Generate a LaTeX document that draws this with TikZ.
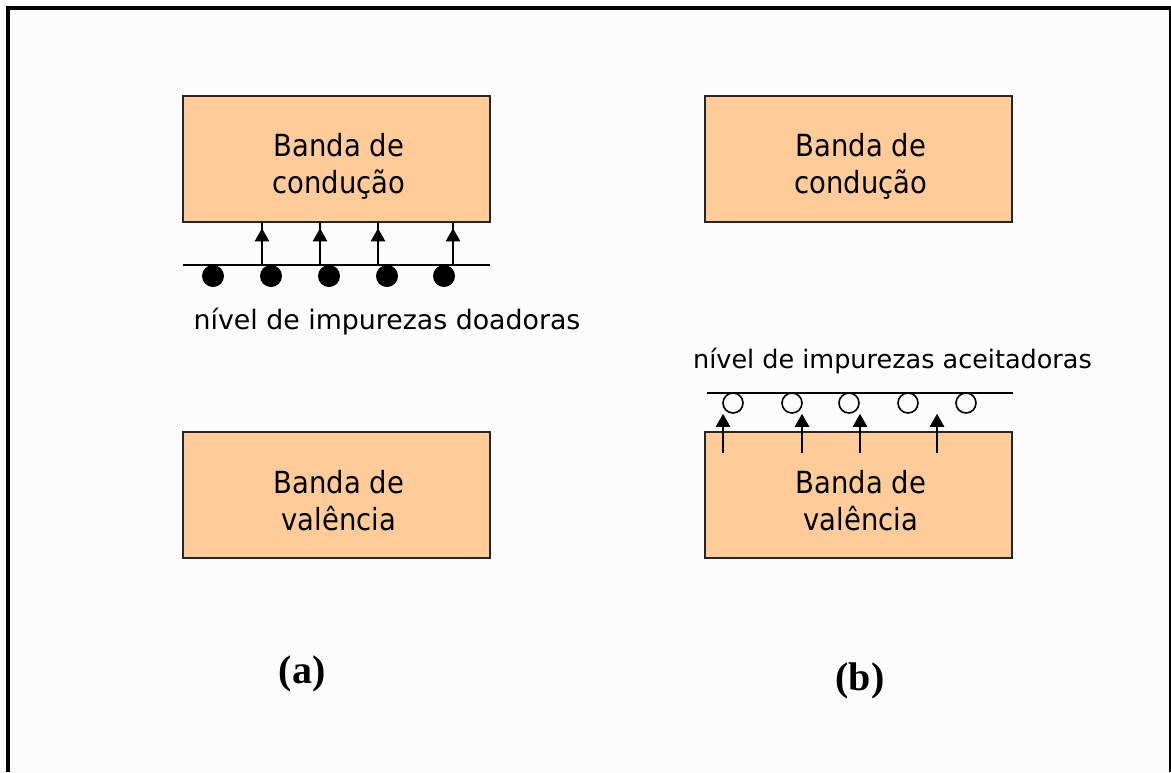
\documentclass[tikz,border=0pt]{standalone}
\usepackage{fontspec}
\setmainfont{DejaVu Sans}
\newfontfamily\bandfont[FakeStretch=0.9]{DejaVu Sans}
\newfontfamily\capfont{Liberation Serif}
\usetikzlibrary{arrows.meta}
\definecolor{band}{HTML}{FFCC99}
\definecolor{paper}{HTML}{FCFCFC}

\begin{document}
\begin{tikzpicture}[x=1pt,y=-1pt,
  bandbox/.style={draw=black!85, line width=2.5pt, fill=band,
    minimum width=307pt, minimum height=126pt, inner sep=0pt},
  bandtext/.style={anchor=base, inner sep=0pt, font=\bandfont\fontsize{30.5}{34}\selectfont},
  leveltext/.style={anchor=base, inner sep=0pt, font=\fontsize{25.5}{30}\selectfont},
  levelline/.style={line width=2.5pt},
  donor/.style={circle, fill=black, minimum size=22pt, inner sep=0pt},
  acceptor/.style={circle, draw=black, line width=1.6pt, fill=paper, minimum size=20pt, inner sep=0pt},
  jump/.style={line width=2.5pt, -{Triangle[length=13pt,width=14pt]}},
  caselabel/.style={inner sep=0pt, font=\capfont\bfseries\fontsize{40}{44}\selectfont}
]
% page and frame
\fill[paper] (0,0) rectangle (1171,772);
\useasboundingbox (0,0) rectangle (1171,772);
\fill[black] (6,6) rectangle (10,772);
\fill[black] (6,6) rectangle (1171,10);
\fill[black] (1169,6) rectangle (1171,772);

% ---------- (a) donor impurities ----------
\node[bandbox] (cbA) at (336.5,159) {};
\node[bandbox] (vbA) at (336.5,495) {};
\node[bandtext] (cbA1) at (339,156) {Banda de};
\node[bandtext] (cbA2) at (339,193) {condução};
\node[bandtext] (vbA1) at (339,493) {Banda de};
\node[bandtext] (vbA2) at (339,530) {valência};

\coordinate (dlA) at (183,265);
\coordinate (dlB) at (490,265);
\draw[levelline] (dlA) -- (dlB);
\foreach \x/\n in {213/1,271/2,329/3,387/4,444/5}
  \node[donor] (d\n) at (\x,276) {};
\foreach \x/\n in {262/1,320/2,378/3,453/4}{
  \coordinate (ds\n) at (\x,265);
  \draw[line width=2.5pt] (ds\n) -- (ds\n |- cbA.south);
  \draw[jump] (ds\n) -- ([yshift=-5pt]ds\n |- cbA.south);
}
\node[leveltext, font=\fontsize{26.8}{30}\selectfont] (dtxt) at (387,329) {nível de impurezas doadoras};

% ---------- (b) acceptor impurities ----------
\node[bandbox] (cbB) at (858.5,159) {};
\node[bandbox] (vbB) at (858.5,495) {};
\node[bandtext] (cbB1) at (861,156) {Banda de};
\node[bandtext] (cbB2) at (861,193) {condução};
\node[bandtext] (vbB1) at (861,493) {Banda de};
\node[bandtext] (vbB2) at (861,530) {valência};

\coordinate (alA) at (707,393);
\coordinate (alB) at (1013,393);
\draw[levelline] (alA) -- (alB);
\foreach \x/\n in {733/1,792/2,849/3,908/4,966/5}
  \node[acceptor] (a\n) at (\x,403) {};
\foreach \x/\n in {723/1,802/2,860/3,937/4}{
  \coordinate (as\n) at (\x,453);
  \draw[jump] (as\n) -- ([yshift=17pt]as\n |- vbB.north);
}
\node[leveltext] (atxt) at (892.5,368) {nível de impurezas aceitadoras};

% case labels
\node[caselabel] (capA) at (302,674) {(a)};
\node[caselabel] (capB) at (860,681) {(b)};
\end{tikzpicture}
\end{document}
